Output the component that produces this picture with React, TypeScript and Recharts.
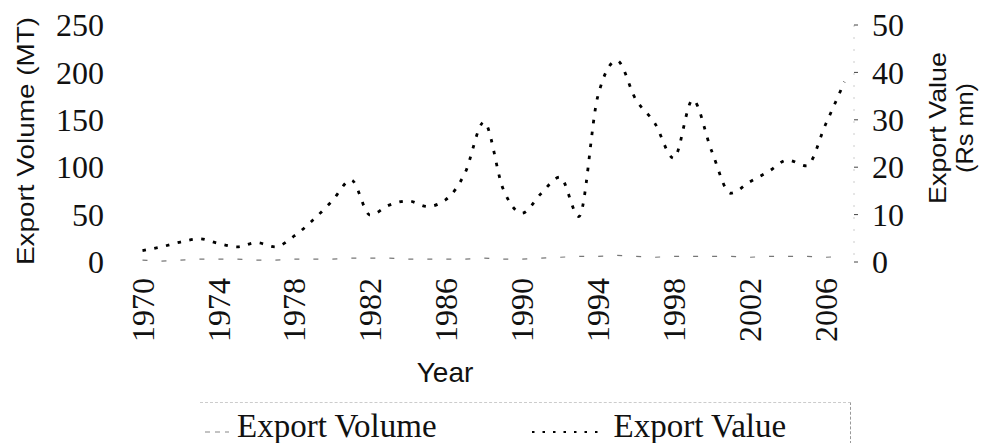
import React from "react";
import { LineChart, Line, XAxis, YAxis } from "recharts";

const years = [
  1970, 1971, 1972, 1973, 1974, 1975, 1976, 1977, 1978, 1979,
  1980, 1981, 1982, 1983, 1984, 1985, 1986, 1987, 1988, 1989,
  1990, 1991, 1992, 1993, 1994, 1995, 1996, 1997, 1998, 1999,
  2000, 2001, 2002, 2003, 2004, 2005, 2006, 2007,
];
const exportVolume = [
  2, 1, 2, 3, 3, 3, 2, 2, 3, 3,
  3, 4, 4, 4, 3, 3, 3, 3, 4, 3,
  3, 4, 5, 6, 6, 7, 6, 5, 6, 6,
  6, 6, 5, 6, 6, 6, 5, 6,
];
const exportValue = [
  2.4, 3.2, 4.2, 4.9, 3.9, 3.2, 4.1, 3.2, 5.5, 8.9,
  12.9, 17.3, 9.9, 12.0, 12.9, 11.7, 13.2, 18.8, 29.5, 15.5,
  10.3, 14.4, 17.9, 9.6, 35.0, 42.5, 34.3, 29.3, 21.9, 34.2,
  23.4, 14.5, 16.9, 19.1, 21.5, 20.3, 29.0, 38.0,
];
const yearTicks = [1970, 1974, 1978, 1982, 1986, 1990, 1994, 1998, 2002, 2006];
const volumeTicks = [0, 50, 100, 150, 200, 250];
const valueTicks = [0, 10, 20, 30, 40, 50];

const data = years.map((y, i) => ({ year: y, volume: exportVolume[i], value: exportValue[i] }));

const SERIF = "Liberation Serif";
const SANS = "Liberation Sans";

const serifStyle = { fontFamily: SERIF, fontSize: 32, fill: "#111" } as React.CSSProperties;
const sansStyle = { fontFamily: SANS, fill: "#111" } as React.CSSProperties;

const LeftTick = (p: any) => (
  <text x={p.x - 1} y={p.y} dy="0.35em" textAnchor="end" style={serifStyle}>
    {p.payload.value}
  </text>
);
const RightTick = (p: any) => (
  <text x={p.x + 12} y={p.y} dy="0.35em" textAnchor="start" style={serifStyle}>
    {p.payload.value}
  </text>
);
const XTick = (p: any) => (
  <text
    transform={`translate(${p.x},${p.y + 8}) rotate(-90)`}
    dy="0.35em"
    textAnchor="end"
    style={serifStyle}
  >
    {p.payload.value}
  </text>
);

export default function App() {
  return (
    <div style={{ position: "absolute", left: 0, top: 0, width: 991, height: 443, background: "#fff" }}>
      <LineChart width={991} height={443} data={data} margin={{ top: 25, right: 0, bottom: 0, left: 0 }}>
        <XAxis
          dataKey="year"
          type="number"
          domain={[1969.5, 2007.5]}
          ticks={yearTicks}
          axisLine={false}
          tickLine={false}
          height={181}
          tick={<XTick />}
          interval={0}
          label={{
            content: () => (
              <text x={445} y={382} textAnchor="middle" style={{ ...sansStyle, fontSize: 28 }}>
                Year
              </text>
            ),
          }}
        />
        <YAxis
          yAxisId="left"
          domain={[0, 250]}
          ticks={volumeTicks}
          width={133}
          axisLine={false}
          tickLine={false}
          tick={<LeftTick />}
          tickMargin={22}
          label={{
            content: () => (
              <text
                transform="translate(34,141) rotate(-90)"
                textAnchor="middle"
                style={{ ...sansStyle, fontSize: 24 }}
                textLength={248}
                lengthAdjust="spacingAndGlyphs"
              >
                Export Volume (MT)
              </text>
            ),
          }}
        />
        <YAxis
          yAxisId="right"
          orientation="right"
          domain={[0, 50]}
          ticks={valueTicks}
          width={137}
          axisLine={{ stroke: "#ccc", strokeDasharray: "2 10" }}
          tickLine={{ stroke: "#444" }}
          tickSize={4}
          tick={<RightTick />}
          label={{
            content: () => (
              <g>
                <text
                  transform="translate(946,128) rotate(-90)"
                  textAnchor="middle"
                  style={{ ...sansStyle, fontSize: 24 }}
                  textLength={152}
                  lengthAdjust="spacingAndGlyphs"
                >
                  Export Value
                </text>
                <text
                  transform="translate(973,128) rotate(-90)"
                  textAnchor="middle"
                  style={{ ...sansStyle, fontSize: 24 }}
                  textLength={90}
                  lengthAdjust="spacingAndGlyphs"
                >
                  (Rs mn)
                </text>
              </g>
            ),
          }}
        />
        <Line
          yAxisId="left"
          dataKey="volume"
          type="linear"
          stroke="#777"
          strokeWidth={1.2}
          strokeDasharray="5 14"
          dot={false}
          isAnimationActive={false}
        />
        <Line
          yAxisId="right"
          dataKey="value"
          type="monotone"
          stroke="#000"
          strokeWidth={2.8}
          strokeDasharray="3.5 8.5"
          dot={false}
          isAnimationActive={false}
        />
      </LineChart>
      <div
        style={{
          position: "absolute",
          left: 200,
          top: 402,
          width: 650,
          height: 41,
          borderTop: "1px dashed #ccc",
          borderRight: "1px dashed #999",
          display: "flex",
          alignItems: "flex-end",
          fontFamily: SERIF,
          fontSize: 33,
          lineHeight: "36px",
          color: "#111",
          whiteSpace: "nowrap",
        }}
      >
        <svg width={24} height={30} style={{ marginLeft: 5, marginRight: 8 }}>
          <line x1={0} y1={18} x2={24} y2={18} stroke="#888" strokeWidth={1.2} strokeDasharray="5 5" />
        </svg>
        <span>Export Volume</span>
        <svg width={70} height={30} style={{ marginLeft: 95, marginRight: 12 }}>
          <line x1={0} y1={18} x2={70} y2={18} stroke="#000" strokeWidth={2} strokeDasharray="2.5 8" />
        </svg>
        <span>Export Value</span>
      </div>
    </div>
  );
}
